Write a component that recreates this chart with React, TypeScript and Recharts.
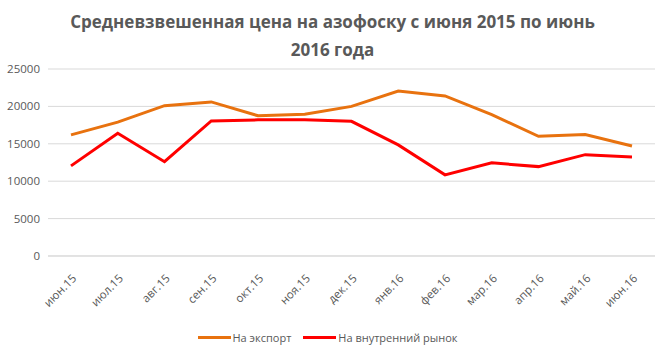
import React from 'react';
import { LineChart, Line, XAxis, YAxis, CartesianGrid, Legend } from 'recharts';

const months = [
  'июн.15', 'июл.15', 'авг.15', 'сен.15', 'окт.15', 'ноя.15', 'дек.15',
  'янв.16', 'фев.16', 'мар.16', 'апр.16', 'май.16', 'июн.16',
];
const exportPrice = [16200, 17900, 20100, 20600, 18750, 18950, 20000, 22050, 21400, 18900, 16000, 16250, 14700];
const domesticPrice = [12050, 16400, 12600, 18050, 18200, 18200, 18000, 14850, 10850, 12450, 11950, 13550, 13250];
const yTicks = [0, 5000, 10000, 15000, 20000, 25000];

const FONT = "'Open Sans', 'Noto Sans', sans-serif";
const TEXT = '#595959';
const ORANGE = '#E8720F';

const data = months.map((m, i) => ({
  month: m,
  exp: exportPrice[i],
  dom: domesticPrice[i],
}));

function MonthTick(props: any) {
  const { x, y, payload } = props;
  return (
    <g transform={`translate(${x + 4},${y + 13})`}>
      <text
        transform="rotate(-45)"
        textAnchor="end"
        dominantBaseline="middle"
        fontSize={11.5}
        fontFamily={FONT}
        fill={TEXT}
      >
        {payload.value}
      </text>
    </g>
  );
}

function LegendBox() {
  const items = [
    { label: 'На экспорт', color: ORANGE },
    { label: 'На внутренний рынок', color: '#FF0000' },
  ];
  return (
    <div
      style={{
        height: 42,
        boxSizing: 'border-box',
        paddingTop: 19,
        display: 'flex',
        justifyContent: 'center',
        alignItems: 'flex-start',
        gap: 12,
        fontFamily: FONT,
        fontSize: 11,
        color: TEXT,
      }}
    >
      {items.map((it) => (
        <div key={it.label} style={{ display: 'flex', alignItems: 'center', gap: 2 }}>
          <div style={{ width: 33, height: 3, background: it.color }} />
          <span>{it.label}</span>
        </div>
      ))}
    </div>
  );
}

export default function App() {
  return (
    <div style={{ position: 'absolute', left: 0, top: 0, width: 665, height: 353, background: '#fff' }}>
      <div
        style={{
          position: 'absolute',
          left: 0,
          top: 8,
          width: 665,
          textAlign: 'center',
          fontFamily: FONT,
          fontWeight: 700,
          fontSize: 17,
          lineHeight: '28px',
          color: TEXT,
        }}
      >
        Средневзвешенная цена на азофоску с июня 2015 по июнь
        <br />
        2016 года
      </div>
      <LineChart
        width={665}
        height={353}
        data={data}
        margin={{ top: 69, right: 10, left: 0, bottom: 0 }}
      >
        <CartesianGrid vertical={false} stroke="#D9D9D9" strokeWidth={1} />
        <XAxis
          dataKey="month"
          axisLine={{ stroke: '#D9D9D9' }}
          tickLine={false}
          tick={<MonthTick />}
          interval={0}
          height={55}
          padding={{ left: 23, right: 23 }}
        />
        <YAxis
          width={48}
          domain={[0, 25000]}
          ticks={yTicks}
          axisLine={false}
          tickLine={false}
          tick={{ fontSize: 11.5, fontFamily: FONT, fill: TEXT }}
        />
        <Legend verticalAlign="bottom" height={42} content={() => <LegendBox />} />
        <Line
          type="linear"
          dataKey="exp"
          name="На экспорт"
          stroke={ORANGE}
          strokeWidth={3}
          dot={false}
          isAnimationActive={false}
        />
        <Line
          type="linear"
          dataKey="dom"
          name="На внутренний рынок"
          stroke="#FF0000"
          strokeWidth={3}
          dot={false}
          isAnimationActive={false}
        />
      </LineChart>
    </div>
  );
}
